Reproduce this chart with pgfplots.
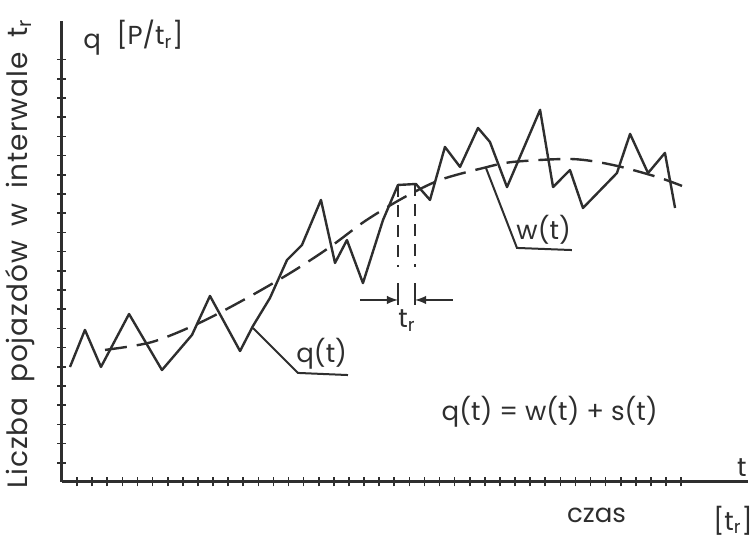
\documentclass[border=0pt]{standalone}
\usepackage{fontspec}
\setmainfont{Poppins}
\newfontfamily\labelfont[LetterSpace=3.5, WordSpace=1.7]{Poppins}
\usepackage{pgfplots}
\pgfplotsset{compat=1.18}
\definecolor{ink}{HTML}{2E2E2E}

\begin{document}
\begin{tikzpicture}[font=\fontsize{13}{15}\selectfont, color=ink]
\useasboundingbox (-31pt,-28.5pt) rectangle (347pt,241pt);
\begin{axis}[
  anchor=origin, at={(0,0)},
  x=7.55pt, y=9.6pt,
  xmin=0, xmax=45.4, ymin=0, ymax=24,
  axis lines=left,
  axis line style={-, line width=1.5pt, ink},
  xtick={1,...,41}, ytick={1,...,22},
  xticklabels={}, yticklabels={},
  tick align=center, major tick length=4.5pt,
  tick style={line width=0.8pt, ink},
  clip=false,
]
% measured flow q(t), one value per interval t_r
\addplot[ink, line width=1.2pt, line join=round] coordinates {
  (0.53,5.99) (1.52,7.92) (2.58,5.99) (4.44,8.75) (6.62,5.83)
  (8.61,7.66) (9.80,9.69) (11.79,6.82) (12.65,8.13) (13.77,9.58)
  (14.90,11.56) (15.89,12.34) (17.15,14.69) (18.08,11.41) (18.87,12.60)
  (19.93,10.36) (21.26,13.65) (22.25,15.47) (23.44,15.52) (24.37,14.69)
  (25.36,17.45) (26.36,16.41) (27.55,18.44) (28.34,17.71) (29.47,15.36)
  (31.66,19.38) (32.52,15.36) (33.64,16.25) (34.50,14.27) (36.75,16.09)
  (37.62,18.13) (38.81,16.09) (39.93,17.14) (40.60,14.27)
};
% trend w(t)
\addplot[ink, line width=1.2pt, smooth, dash pattern=on 11pt off 5pt] coordinates {
  (2.85,6.88) (5.96,7.29) (9.14,8.30) (12.25,9.58) (15.23,10.94)
  (17.75,12.24) (20.07,13.59) (22.58,14.79) (25.03,15.73) (27.88,16.35)
  (29.87,16.67) (33.77,16.82) (36.49,16.51) (39.40,15.89) (41.06,15.42)
};

% interval t_r
\draw[line width=0.9pt, dash pattern=on 6pt off 4pt] (axis cs:22.25,15.47) -- (axis cs:22.25,11.2);
\draw[line width=0.9pt, dash pattern=on 6pt off 4pt] (axis cs:23.38,15.52) -- (axis cs:23.38,11.2);
\draw[line width=0.9pt] (axis cs:22.25,10.36) -- (axis cs:22.25,9.22);
\draw[line width=0.9pt] (axis cs:23.38,10.36) -- (axis cs:23.38,9.22);
\draw[line width=0.9pt, -latex] (axis cs:19.74,9.48) -- (axis cs:22.25,9.48);
\draw[line width=0.9pt, -latex] (axis cs:25.89,9.48) -- (axis cs:23.38,9.48);
\node at (axis cs:22.85,8.4) {t\textsubscript{r}};

% leaders
\draw[line width=1pt] (axis cs:12.65,8.02) -- (axis cs:15.63,5.68) -- (axis cs:18.94,5.57);
\node[anchor=south] at (axis cs:17.2,5.5) {q(t)};
\draw[line width=1pt] (axis cs:28.08,16.35) -- (axis cs:30.13,12.19) -- (axis cs:33.77,12.08);
\node[anchor=south] at (axis cs:31.9,12.0) {w(t)};

\node at (axis cs:32.3,3.65) {q(t) = w(t) + s(t)};
\node at (axis cs:35.4,-1.72) {czas};
\node at (axis cs:45.03,0.75) {t};
\node[anchor=east, inner sep=1pt] at (axis cs:45.9,-2.0) {[t\textsubscript{r}]};
\node at (axis cs:1.99,22.76) {q};
\node at (axis cs:5.83,23.28) {[P/t\textsubscript{r}]};
\node[rotate=90, font=\fontsize{14}{16}\labelfont]
  at (axis cs:-2.78,11.875) {Liczba pojazdów w interwale t\textsubscript{r}};
\end{axis}
\end{tikzpicture}
\end{document}
